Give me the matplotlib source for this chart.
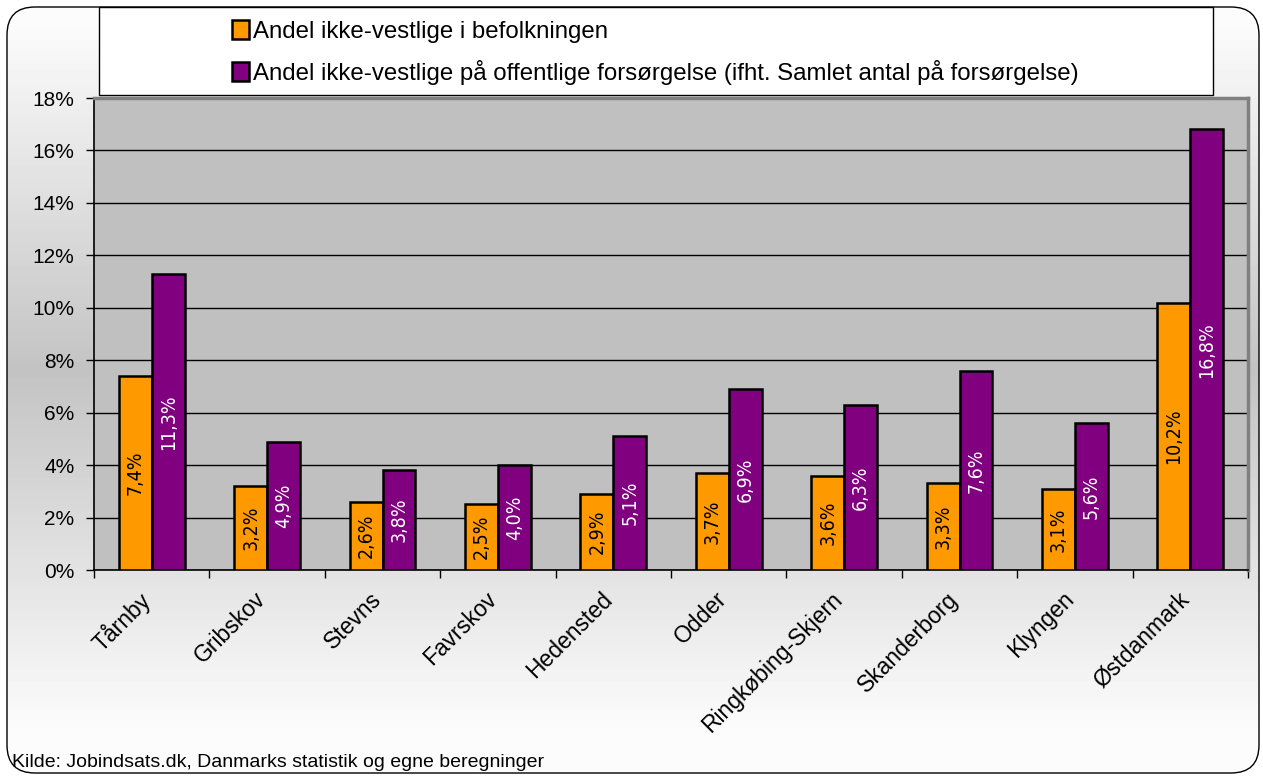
import numpy as np
import matplotlib
matplotlib.use("Agg")
import matplotlib.pyplot as plt
import matplotlib.transforms as mtransforms
from matplotlib.patches import FancyBboxPatch, Rectangle
from matplotlib.ticker import FixedLocator, NullFormatter, FuncFormatter

# data
kommuner = ["Tårnby", "Gribskov", "Stevns", "Favrskov", "Hedensted", "Odder",
            "Ringkøbing-Skjern", "Skanderborg", "Klyngen", "Østdanmark"]
andel_befolkning = [7.4, 3.2, 2.6, 2.5, 2.9, 3.7, 3.6, 3.3, 3.1, 10.2]
andel_forsorgelse = [11.3, 4.9, 3.8, 4.0, 5.1, 6.9, 6.3, 7.6, 5.6, 16.8]
serie_navne = ["Andel ikke-vestlige i befolkningen",
               "Andel ikke-vestlige på offentlige forsørgelse (ifht. Samlet antal på forsørgelse)"]
y_ticks = [0, 2, 4, 6, 8, 10, 12, 14, 16, 18]
kilde = "Kilde: Jobindsats.dk, Danmarks statistik og egne beregninger"

ORANGE = "#FF9900"
PURPLE = "#800080"

plt.rcParams["font.family"] = ["Liberation Sans", "DejaVu Sans"]

W, H = 1263, 778
fig = plt.figure(figsize=(W / 100, H / 100), dpi=100)
fig.patch.set_facecolor("white")

# background gradient inside a rounded frame
bg = fig.add_axes([0, 0, 1, 1], zorder=-10)
bg.set_axis_off()
ys = np.linspace(0, 1, 200)
peak = 370 / H
vals = np.where(ys < peak, 1.0 - (ys / peak) * 0.235,
                0.765 + (ys - peak) / (1 - peak) * 0.25)
vals = np.clip(vals, 0, 0.985)
grad = np.tile(vals[:, None], (1, 2))
frame = FancyBboxPatch((7, 5), W - 11, H - 12,
                       boxstyle="round,pad=0,rounding_size=28",
                       transform=None, facecolor="none", edgecolor="black", lw=1.0)
im = bg.imshow(grad, cmap="gray", vmin=0, vmax=1, aspect="auto",
               extent=[0, 1, 0, 1], origin="upper")
bg.set_xlim(0, 1)
bg.set_ylim(0, 1)
im.set_clip_path(frame)
fig.add_artist(frame)

# plot area
left, right, top, bottom = 94, 1248, 98, 570
ax = fig.add_axes([left / W, 1 - bottom / H, (right - left) / W, (bottom - top) / H])
ax.set_facecolor("#C0C0C0")

x = np.arange(len(kommuner))
w = 0.285
b1 = ax.bar(x - w / 2, andel_befolkning, w, color=ORANGE, edgecolor="black", lw=1.8,
            label=serie_navne[0], zorder=3)
b2 = ax.bar(x + w / 2, andel_forsorgelse, w, color=PURPLE, edgecolor="black", lw=1.8,
            label=serie_navne[1], zorder=3)

def fmt(v):
    return f"{v:.1f}".replace(".", ",") + "%"

lbl_font = dict(family="DejaVu Sans", fontstretch="condensed",
                fontsize=14, rotation=90, ha="center", va="center", zorder=4)
for xi, v in zip(x, andel_befolkning):
    ax.text(xi - w / 2, v / 2, fmt(v), color="black", **lbl_font)
for xi, v in zip(x, andel_forsorgelse):
    ax.text(xi + w / 2, v / 2, fmt(v), color="white", **lbl_font)

ax.set_xlim(-0.5, len(kommuner) - 0.5)
ax.set_ylim(0, 18)
ax.set_yticks(y_ticks)
ax.yaxis.set_major_formatter(FuncFormatter(lambda v, p: f"{int(v)}%"))
ax.yaxis.grid(True, color="black", lw=1.0, zorder=1)
ax.set_axisbelow(True)

ax.xaxis.set_major_locator(FixedLocator(np.arange(-0.5, len(kommuner), 1.0)))
ax.xaxis.set_major_formatter(NullFormatter())
ax.set_xticks(x, kommuner, minor=True)
ax.tick_params(axis="x", which="minor", length=0, pad=4, labelsize=16.5)
ax.tick_params(axis="x", which="major", length=6, width=1, direction="out")
ax.tick_params(axis="y", length=6, width=1, direction="out", labelsize=15, pad=8)
shift = mtransforms.ScaledTranslation(-0.13, -0.12, fig.dpi_scale_trans)
for t in ax.get_xticklabels(minor=True):
    t.set_rotation(45)
    t.set_ha("right")
    t.set_rotation_mode("anchor")
    t.set_transform(t.get_transform() + shift)

for s in ["left", "bottom"]:
    ax.spines[s].set_color("black")
    ax.spines[s].set_linewidth(1.2)
for s in ["top", "right"]:
    ax.spines[s].set_color("#808080")
    ax.spines[s].set_linewidth(2.5)

# legend box
fig.add_artist(Rectangle((99 / W, 1 - 95 / H), (1213 - 99) / W, 88 / H,
                         transform=fig.transFigure, facecolor="white",
                         edgecolor="black", lw=1.0, zorder=1))
leg = fig.legend(handles=[b1, b2], labels=serie_navne, loc="center left",
                 bbox_to_anchor=(232 / W, 1 - 52.5 / H), frameon=False, fontsize=17.3,
                 handlelength=0.72, handleheight=0.82, handletextpad=0.15,
                 labelspacing=0.72, borderpad=0, borderaxespad=0)
leg.set_zorder(2)

fig.text(12 / W, 1 - 767 / H, kilde, fontsize=14, ha="left", va="baseline")

fig.savefig("out.png", dpi=100)
